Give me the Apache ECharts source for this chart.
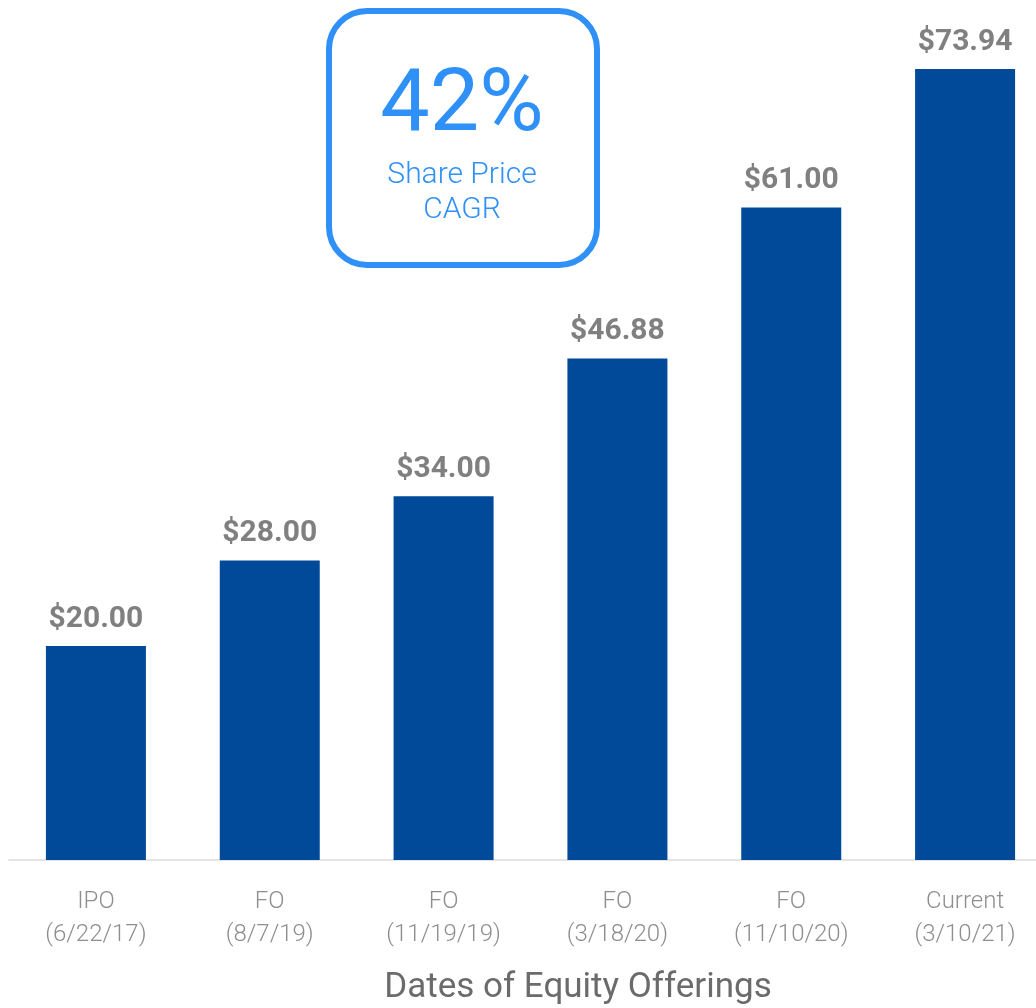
<!DOCTYPE html>
<html>
<head>
<meta charset="utf-8">
<script src="https://cdn.jsdelivr.net/npm/echarts@6/dist/echarts.min.js"></script>
<style>
  html, body { margin: 0; padding: 0; background: #fff; }
  #chart { width: 1036px; height: 1008px; }
</style>
</head>
<body>
<div id="chart"></div>
<script>
// offering types and dates
const offerings = ['IPO', 'FO', 'FO', 'FO', 'FO', 'Current']
const dates = ['(6/22/17)', '(8/7/19)', '(11/19/19)', '(3/18/20)', '(11/10/20)', '(3/10/21)']
// share price at each offering
const prices = [20.00, 28.00, 34.00, 46.88, 61.00, 73.94]
const cagr = '42%'

const categories = offerings.map((o, i) => o + '\n' + dates[i])

const chart = echarts.init(document.getElementById('chart'))

chart.setOption({
    animation: false,
    grid: { left: 9, width: 1043, top: 69, bottom: 148, outerBoundsMode: 'none' },
    xAxis: {
        type: 'category',
        data: categories,
        axisLine: { show: true, lineStyle: { color: '#e4e4e4', width: 2 } },
        axisTick: { show: false },
        axisLabel: {
            interval: 0,
            margin: 25,
            fontFamily: 'Roboto',
            fontWeight: 300,
            fontSize: 24,
            lineHeight: 33,
            color: '#8e8e8e'
        }
    },
    yAxis: {
        type: 'value',
        min: 0,
        max: 'dataMax',
        show: false,
        splitLine: { show: false }
    },
    series: [{
        type: 'bar',
        data: prices,
        barWidth: 100,
        itemStyle: { color: '#004a99' },
        label: {
            show: true,
            position: 'top',
            distance: 12,
            fontFamily: 'Roboto',
            fontWeight: 'bold',
            fontSize: 30,
            color: '#808080',
            formatter: p => '$' + p.value.toFixed(2)
        }
    }],
    graphic: [
        {
            type: 'rect',
            shape: { x: 329, y: 11, width: 268, height: 254, r: 38 },
            style: { fill: '#fff', stroke: '#2f91f8', lineWidth: 6 }
        },
        {
            type: 'text',
            x: 462, y: 108,
            style: {
                text: cagr, align: 'center', verticalAlign: 'middle',
                fontFamily: 'Roboto', fontWeight: 400, fontSize: 88, fill: '#2f91f8'
            }
        },
        {
            type: 'text',
            x: 462, y: 175,
            style: {
                text: 'Share Price', align: 'center', verticalAlign: 'middle',
                fontFamily: 'Roboto', fontWeight: 300, fontSize: 30, fill: '#2f91f8'
            }
        },
        {
            type: 'text',
            x: 462, y: 210,
            style: {
                text: 'CAGR', align: 'center', verticalAlign: 'middle',
                fontFamily: 'Roboto', fontWeight: 300, fontSize: 30, fill: '#2f91f8'
            }
        },
        {
            type: 'text',
            x: 578, y: 988,
            style: {
                text: 'Dates of Equity Offerings', align: 'center', verticalAlign: 'middle',
                fontFamily: 'Roboto', fontWeight: 400, fontSize: 35, fill: '#6b6b6b'
            }
        }
    ]
})
</script>
</body>
</html>
